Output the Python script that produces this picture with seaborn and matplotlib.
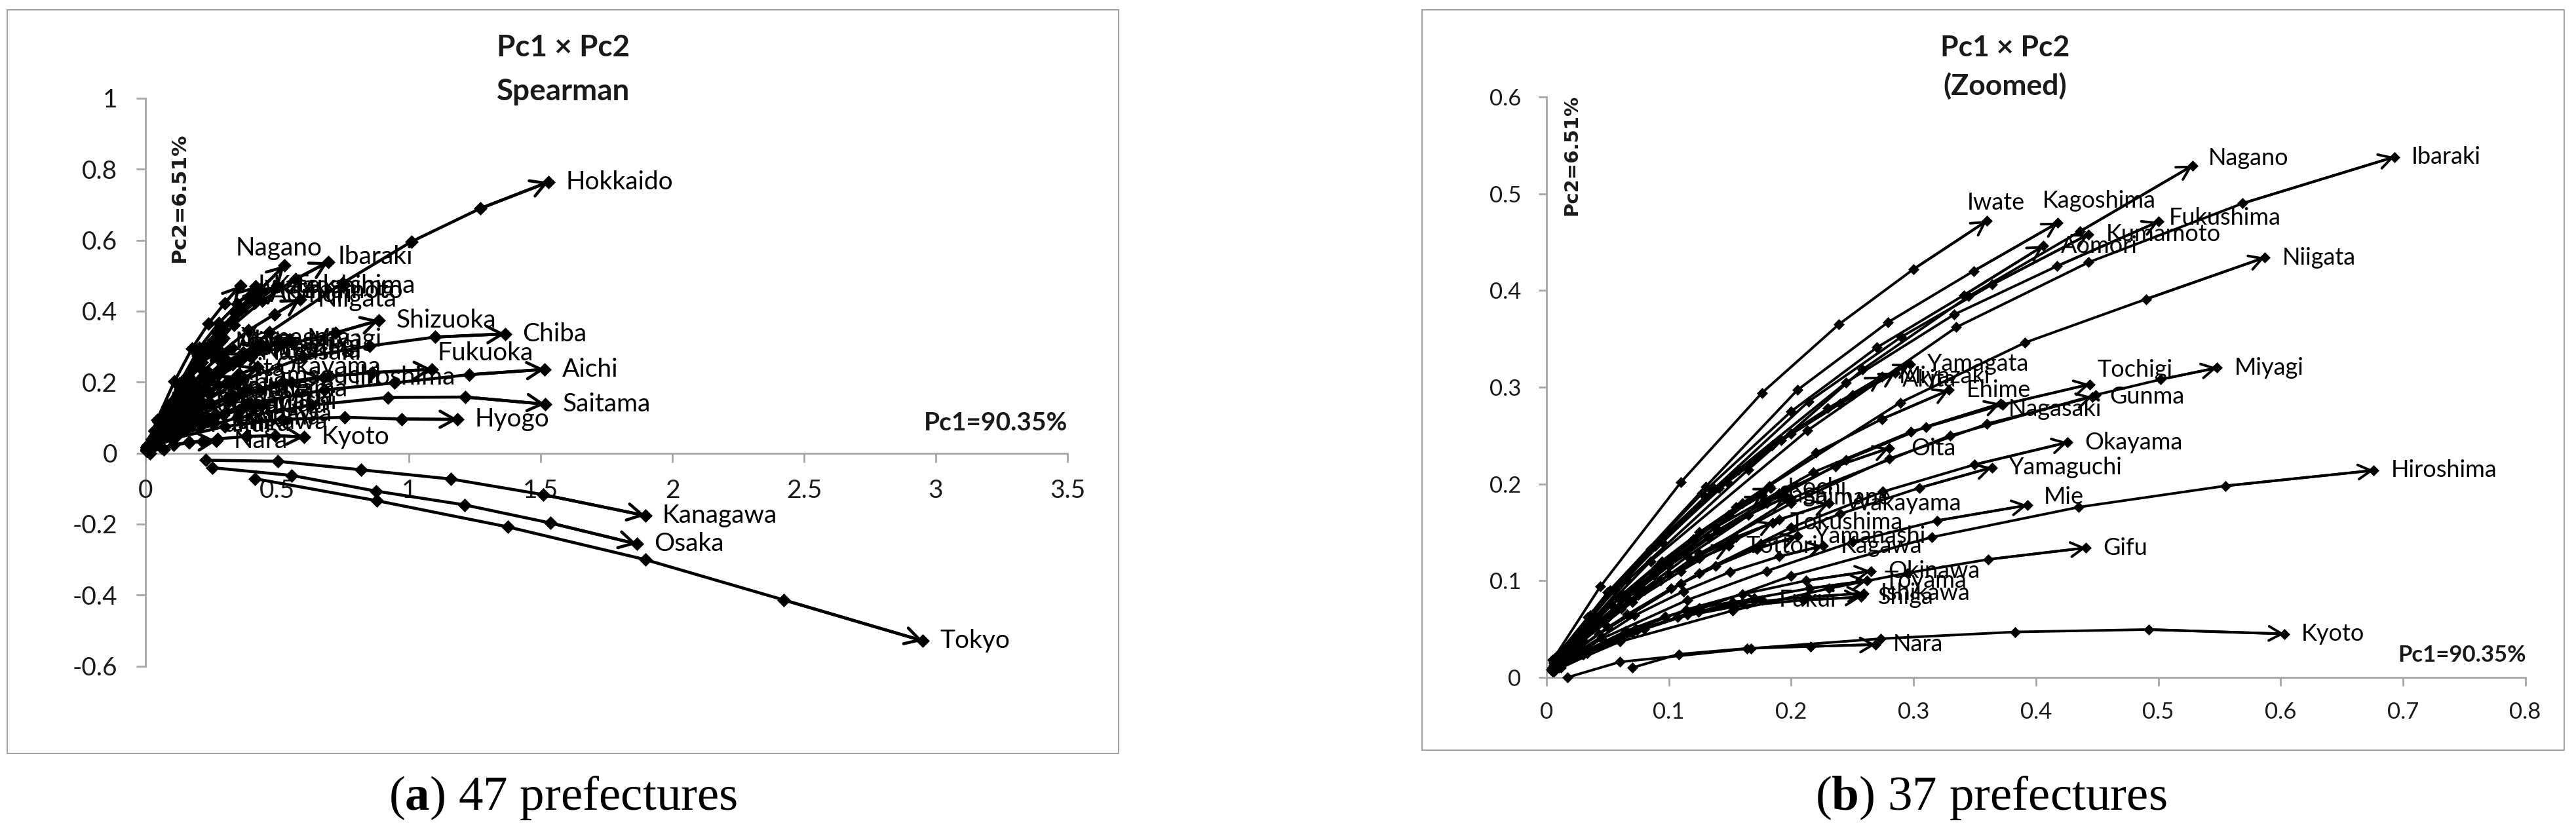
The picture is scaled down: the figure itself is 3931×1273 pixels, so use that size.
import matplotlib
matplotlib.use("Agg")
import matplotlib.pyplot as plt
import matplotlib.patches as mpatches
import pandas as pd
import seaborn as sns

# --- TRAJECTORIES (Pc1 values, Pc2 values) ---
# the ten large prefectures, only shown in panel (a)
hokkaido = ([0.02, 0.19, 0.47, 0.75, 1.01, 1.27, 1.53], [0.03, 0.17, 0.34, 0.48, 0.596, 0.689, 0.764])
chiba = ([0.02, 0.12, 0.35, 0.60, 0.85, 1.10, 1.365], [0.02, 0.10, 0.20, 0.27, 0.302, 0.327, 0.336])
aichi = ([0.02, 0.15, 0.40, 0.68, 0.945, 1.228, 1.515], [0.02, 0.08, 0.14, 0.178, 0.198, 0.221, 0.236])
fukuoka = ([0.02, 0.12, 0.33, 0.52, 0.70, 0.861, 1.088], [0.02, 0.09, 0.16, 0.20, 0.217, 0.227, 0.236])
saitama = ([0.02, 0.12, 0.35, 0.63, 0.92, 1.214, 1.517], [0.01, 0.05, 0.10, 0.135, 0.157, 0.158, 0.138])
hyogo = ([0.02, 0.10, 0.30, 0.52, 0.756, 0.972, 1.185], [0.01, 0.04, 0.075, 0.095, 0.101, 0.096, 0.095])
shizuoka = ([0.01, 0.09, 0.24, 0.40, 0.56, 0.722, 0.886], [0.02, 0.10, 0.20, 0.27, 0.31, 0.339, 0.374])
kanagawa = ([0.228, 0.502, 0.818, 1.160, 1.510, 1.897], [-0.020, -0.023, -0.047, -0.073, -0.117, -0.176])
osaka = ([0.253, 0.556, 0.875, 1.212, 1.538, 1.865], [-0.041, -0.063, -0.107, -0.146, -0.197, -0.256])
tokyo = ([0.415, 0.878, 1.376, 1.897, 2.424, 2.951], [-0.072, -0.134, -0.208, -0.300, -0.414, -0.529])

# the other 37
iwate = ([0.005, 0.044, 0.110, 0.176, 0.239, 0.300, 0.360], [0.018, 0.094, 0.202, 0.294, 0.365, 0.422, 0.472])
kagoshima = ([0.008, 0.052, 0.130, 0.205, 0.279, 0.349, 0.418], [0.022, 0.090, 0.197, 0.297, 0.367, 0.420, 0.470])
nagano = ([0.010, 0.066, 0.165, 0.258, 0.345, 0.436, 0.528], [0.020, 0.100, 0.215, 0.318, 0.394, 0.461, 0.529])
ibaraki = ([0.012, 0.085, 0.213, 0.335, 0.443, 0.569, 0.693], [0.025, 0.120, 0.255, 0.362, 0.429, 0.490, 0.538])
fukushima = ([0.010, 0.062, 0.157, 0.245, 0.333, 0.417, 0.500], [0.022, 0.100, 0.215, 0.305, 0.375, 0.425, 0.471])
kumamoto = ([0.008, 0.055, 0.137, 0.214, 0.290, 0.364, 0.443], [0.020, 0.090, 0.195, 0.285, 0.352, 0.406, 0.458])
aomori = ([0.008, 0.050, 0.127, 0.200, 0.270, 0.341, 0.406], [0.020, 0.088, 0.190, 0.275, 0.341, 0.395, 0.446])
niigata = ([0.012, 0.072, 0.182, 0.289, 0.391, 0.490, 0.587], [0.020, 0.090, 0.198, 0.284, 0.346, 0.391, 0.434])
yamagata = ([0.006, 0.038, 0.094, 0.148, 0.200, 0.250, 0.297], [0.016, 0.066, 0.140, 0.202, 0.252, 0.292, 0.324])
akita = ([0.006, 0.036, 0.089, 0.141, 0.192, 0.240, 0.285], [0.015, 0.064, 0.136, 0.196, 0.245, 0.283, 0.315])
miyazaki = ([0.006, 0.034, 0.085, 0.135, 0.184, 0.230, 0.274], [0.015, 0.062, 0.133, 0.193, 0.240, 0.278, 0.311])
ehime = ([0.007, 0.040, 0.100, 0.160, 0.220, 0.274, 0.329], [0.015, 0.055, 0.122, 0.180, 0.232, 0.267, 0.297])
tochigi = ([0.008, 0.053, 0.138, 0.218, 0.298, 0.373, 0.444], [0.018, 0.075, 0.155, 0.212, 0.254, 0.282, 0.303])
miyagi = ([0.010, 0.080, 0.200, 0.330, 0.449, 0.502, 0.548], [0.020, 0.090, 0.185, 0.250, 0.292, 0.308, 0.320])
gunma = ([0.008, 0.050, 0.125, 0.200, 0.280, 0.360, 0.446], [0.016, 0.062, 0.128, 0.180, 0.226, 0.262, 0.290])
nagasaki = ([0.007, 0.045, 0.115, 0.180, 0.245, 0.310, 0.371], [0.015, 0.058, 0.125, 0.180, 0.225, 0.259, 0.283])
oita = ([0.006, 0.035, 0.088, 0.140, 0.190, 0.236, 0.280], [0.013, 0.050, 0.106, 0.152, 0.190, 0.218, 0.237])
okayama = ([0.008, 0.050, 0.125, 0.200, 0.275, 0.350, 0.426], [0.013, 0.052, 0.108, 0.155, 0.192, 0.220, 0.243])
yamaguchi = ([0.007, 0.043, 0.110, 0.175, 0.240, 0.305, 0.364], [0.012, 0.045, 0.097, 0.138, 0.169, 0.196, 0.217])
hiroshima = ([0.012, 0.080, 0.200, 0.315, 0.435, 0.555, 0.676], [0.010, 0.050, 0.105, 0.145, 0.176, 0.198, 0.214])
mie = ([0.008, 0.045, 0.115, 0.180, 0.250, 0.319, 0.393], [0.010, 0.040, 0.080, 0.110, 0.140, 0.162, 0.178])
gifu = ([0.010, 0.060, 0.152, 0.231, 0.295, 0.361, 0.441], [0.010, 0.037, 0.069, 0.092, 0.108, 0.122, 0.134])
wakayama = ([0.005, 0.030, 0.070, 0.110, 0.150, 0.190, 0.231], [0.010, 0.038, 0.078, 0.110, 0.140, 0.163, 0.180])
kochi = ([0.005, 0.026, 0.062, 0.094, 0.125, 0.155, 0.183], [0.010, 0.040, 0.086, 0.120, 0.150, 0.176, 0.196])
saga = ([0.005, 0.024, 0.059, 0.090, 0.120, 0.149, 0.176], [0.010, 0.038, 0.082, 0.114, 0.143, 0.168, 0.188])
shimane = ([0.005, 0.027, 0.066, 0.100, 0.133, 0.165, 0.195], [0.010, 0.038, 0.082, 0.115, 0.144, 0.168, 0.186])
tokushima = ([0.005, 0.025, 0.061, 0.093, 0.124, 0.155, 0.185], [0.009, 0.034, 0.071, 0.100, 0.125, 0.145, 0.160])
tottori = ([0.004, 0.020, 0.049, 0.075, 0.100, 0.125, 0.149], [0.008, 0.029, 0.060, 0.085, 0.106, 0.123, 0.136])
yamanashi = ([0.005, 0.027, 0.066, 0.102, 0.138, 0.172, 0.205], [0.008, 0.031, 0.065, 0.092, 0.115, 0.133, 0.146])
kagawa = ([0.005, 0.030, 0.072, 0.112, 0.150, 0.190, 0.226], [0.008, 0.030, 0.064, 0.089, 0.109, 0.125, 0.136])
okinawa = ([0.005, 0.030, 0.073, 0.114, 0.160, 0.212, 0.265], [0.006, 0.025, 0.050, 0.070, 0.086, 0.100, 0.110])
toyama = ([0.006, 0.033, 0.080, 0.124, 0.170, 0.215, 0.262], [0.006, 0.025, 0.050, 0.068, 0.082, 0.092, 0.100])
ishikawa = ([0.006, 0.030, 0.074, 0.115, 0.160, 0.213, 0.259], [0.006, 0.024, 0.049, 0.065, 0.077, 0.083, 0.087])
shiga = ([0.006, 0.030, 0.070, 0.107, 0.153, 0.210, 0.257], [0.006, 0.024, 0.047, 0.062, 0.073, 0.080, 0.083])
fukui = ([0.006, 0.028, 0.065, 0.097, 0.125, 0.152, 0.176], [0.007, 0.025, 0.048, 0.063, 0.072, 0.078, 0.080])
kyoto = ([0.017, 0.060, 0.167, 0.273, 0.383, 0.492, 0.603], [0.000, 0.016, 0.030, 0.040, 0.047, 0.0495, 0.045])
nara = ([0.070, 0.108, 0.164, 0.216, 0.269], [0.010, 0.024, 0.030, 0.032, 0.034])

big_ten = {
    "Hokkaido": hokkaido, "Chiba": chiba, "Aichi": aichi, "Fukuoka": fukuoka,
    "Saitama": saitama, "Hyogo": hyogo, "Shizuoka": shizuoka,
    "Kanagawa": kanagawa, "Osaka": osaka, "Tokyo": tokyo,
}
rest = {
    "Iwate": iwate, "Kagoshima": kagoshima, "Nagano": nagano, "Ibaraki": ibaraki,
    "Fukushima": fukushima, "Kumamoto": kumamoto, "Aomori": aomori, "Niigata": niigata,
    "Yamagata": yamagata, "Akita": akita, "Miyazaki": miyazaki, "Ehime": ehime,
    "Tochigi": tochigi, "Miyagi": miyagi, "Gunma": gunma, "Nagasaki": nagasaki,
    "Oita": oita, "Okayama": okayama, "Yamaguchi": yamaguchi, "Hiroshima": hiroshima,
    "Mie": mie, "Gifu": gifu, "Wakayama": wakayama, "Kochi": kochi, "Saga": saga,
    "Shimane": shimane, "Tokushima": tokushima, "Tottori": tottori,
    "Yamanashi": yamanashi, "Kagawa": kagawa, "Okinawa": okinawa, "Toyama": toyama,
    "Ishikawa": ishikawa, "Shiga": shiga, "Fukui": fukui, "Kyoto": kyoto, "Nara": nara,
}

# axis ticks
a_xticks = [0, 0.5, 1, 1.5, 2, 2.5, 3, 3.5]
a_xlabels = ["0", "0.5", "1", "1.5", "2", "2.5", "3", "3.5"]
a_yticks = [-0.6, -0.4, -0.2, 0, 0.2, 0.4, 0.6, 0.8, 1]
a_ylabels = ["-0.6", "-0.4", "-0.2", "0", "0.2", "0.4", "0.6", "0.8", "1"]
b_xticks = [0, 0.1, 0.2, 0.3, 0.4, 0.5, 0.6, 0.7, 0.8]
b_xlabels = ["0", "0.1", "0.2", "0.3", "0.4", "0.5", "0.6", "0.7", "0.8"]
b_yticks = [0, 0.1, 0.2, 0.3, 0.4, 0.5, 0.6]
b_ylabels = ["0", "0.1", "0.2", "0.3", "0.4", "0.5", "0.6"]

# label nudges (points) where the chart moved a label away from the default spot
nudge_a = {"Nagano": (-6, 19, "center"), "Fukuoka": (6, 18, "left"), "Ibaraki": (11, 6, "left")}
nudge_b = {
    "Iwate": (-22, 20, "left"), "Kagoshima": (-17, 24, "left"), "Nagano": (17, 8, "left"),
    "Tochigi": (8, 16, "left"), "Mie": (18, 9, "left"), "Fukushima": (12, 4, "left"),
    "Akita": (8, -8, "left"), "Nagasaki": (9, -6, "left"), "Oita": (24, 0, "left"),
}


def to_frame(paths):
    rows = []
    for name, (xs, ys) in paths.items():
        for i, (x, y) in enumerate(zip(xs, ys)):
            rows.append({"pref": name, "step": i, "pc1": x, "pc2": y})
    return pd.DataFrame(rows)


sns.set_theme(style="white")
plt.rcParams["font.family"] = ["Lato", "DejaVu Sans"]
plt.rcParams["mathtext.fontset"] = "custom"
plt.rcParams["mathtext.rm"] = "Liberation Serif"
plt.rcParams["mathtext.bf"] = "Liberation Serif:bold"

AXIS_GREY = "#a6a6a6"
TEXT = "#1a1a1a"

fig = plt.figure(figsize=(39.31, 12.73), dpi=100)
ax_a = fig.add_axes([0.05647, 0.2014, 0.35793, 0.6808])
ax_b = fig.add_axes([0.60036, 0.18775, 0.37995, 0.69600])


def draw_panel(ax, data, nudges, lw, ms, head, fs):
    sns.lineplot(
        data=data, x="pc1", y="pc2", units="pref", estimator=None, sort=False,
        color="black", lw=lw, marker="D", markersize=ms,
        markeredgecolor="black", markeredgewidth=0.5, ax=ax, legend=False,
    )
    for line in ax.lines:
        line.set_clip_on(False)
    for name, g in data.groupby("pref", sort=False):
        pts = g.sort_values("step")[["pc1", "pc2"]].to_numpy()
        (x0, y0), (x1, y1) = pts[-2], pts[-1]
        ax.annotate(
            "", xy=(x1, y1), xytext=(x0, y0),
            arrowprops=dict(arrowstyle="->,head_length=0.5,head_width=0.28",
                            color="black", lw=lw, shrinkA=0, shrinkB=0,
                            mutation_scale=head),
        )
        dx, dy, ha = nudges.get(name, (19, 0, "left"))
        ax.annotate(name, xy=(x1, y1), xytext=(dx, dy), textcoords="offset points",
                    ha=ha, va="center", fontsize=fs, color="black")


def style_axes(ax, xt, xl, yt, yl, xlim, ylim, tl, xpad, ypad, fs):
    ax.set_xlim(*xlim)
    ax.set_ylim(*ylim)
    ax.set_xticks(xt)
    ax.set_xticklabels(xl)
    ax.set_yticks(yt)
    ax.set_yticklabels(yl)
    ax.set_xlabel("")
    ax.set_ylabel("")
    ax.grid(False)
    ax.set_facecolor("none")
    for s in ["top", "right"]:
        ax.spines[s].set_visible(False)
    for s in ["left", "bottom"]:
        ax.spines[s].set_color(AXIS_GREY)
        ax.spines[s].set_linewidth(2.0)
        ax.spines[s].set_zorder(0.5)
    ax.spines["bottom"].set_position(("data", 0))
    ax.tick_params(axis="both", direction="out", length=tl, width=2.0,
                   color=AXIS_GREY, labelsize=fs, labelcolor=TEXT)
    ax.tick_params(axis="x", bottom=True, pad=xpad)
    ax.tick_params(axis="y", left=True, pad=ypad)


draw_panel(ax_a, to_frame({**rest, **big_ten}), nudge_a, lw=3.3, ms=10, head=32, fs=28)
style_axes(ax_a, a_xticks, a_xlabels, a_yticks, a_ylabels, (0, 3.5), (-0.6, 1), 10, 18, 21, 28)

draw_panel(ax_b, to_frame(rest), nudge_b, lw=2.8, ms=8.5, head=28, fs=26)
style_axes(ax_b, b_xticks, b_xlabels, b_yticks, b_ylabels, (0, 0.8), (0, 0.6), 9, 18, 19, 25)

# chart frames
for x0, x1, y0, y1 in [(11, 1707, 15, 1150), (2170, 3913, 15, 1145)]:
    fig.patches.append(mpatches.Rectangle(
        (x0 / 3931, 1 - y1 / 1273), (x1 - x0) / 3931, (y1 - y0) / 1273,
        transform=fig.transFigure, fill=False, edgecolor="#a0a0a0", lw=1.4))

# titles
fig.text(0.2186, 0.9427, "Pc1 × Pc2", ha="center", va="center", fontsize=33, fontweight="bold", color=TEXT)
fig.text(0.2186, 0.8900, "Spearman", ha="center", va="center", fontsize=33, fontweight="bold", color=TEXT)
fig.text(0.7784, 0.9427, "Pc1 × Pc2", ha="center", va="center", fontsize=32, fontweight="bold", color=TEXT)
fig.text(0.7784, 0.8967, "(Zoomed)", ha="center", va="center", fontsize=32, fontweight="bold", color=TEXT)

# axis annotations
for x, y, fs in [(0.0697, 0.7628, 22.5), (0.6100, 0.8138, 21)]:
    fig.text(x, y, "Pc2=6.51%", rotation=90, ha="center", va="center", fontsize=fs,
             fontweight="bold", family="DejaVu Sans", color=TEXT)
for x, y, fs in [(0.4144, 0.4929, 28), (0.9807, 0.2145, 25)]:
    fig.text(x, y, "Pc1=90.35%", ha="right", va="center", fontsize=fs, fontweight="bold", color=TEXT)

# captions
fig.text(0.2185, 0.0432, r"($\mathbf{a}$) 47 prefectures", ha="center", va="center",
         fontsize=54, family="Liberation Serif", color="black")
fig.text(0.7728, 0.0432, r"($\mathbf{b}$) 37 prefectures", ha="center", va="center",
         fontsize=54, family="Liberation Serif", color="black")

fig.savefig("out.png", dpi=100, facecolor="white")
